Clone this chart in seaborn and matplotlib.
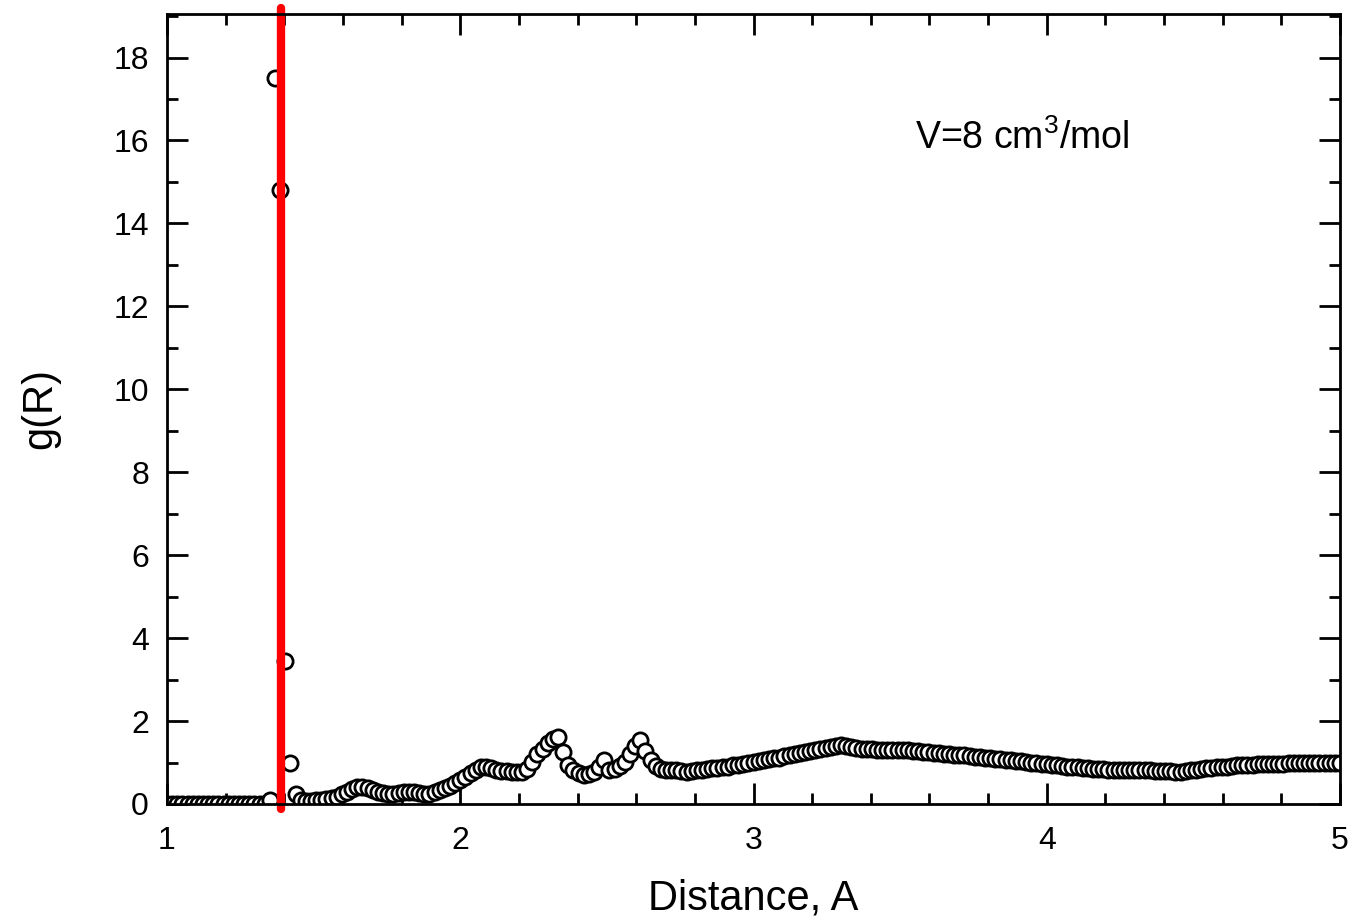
# g(R) radial distribution chart

import numpy as np
import pandas as pd
import seaborn as sns
import matplotlib.pyplot as plt
from matplotlib.ticker import MultipleLocator

# g(R) values, on a uniform distance grid from 1 to 5 A
g_values = [
    0.0, 0.0, 0.0, 0.0, 0.0, 0.0, 0.0, 0.0, 0.0, 0.0,
    0.0, 0.0, 0.0, 0.0, 0.0, 0.0, 0.0, 0.0, 0.0, 0.0,
    0.1, 17.5, 14.8, 3.45, 1.0, 0.25, 0.1, 0.08, 0.08, 0.1,
    0.1, 0.12, 0.14, 0.18, 0.24, 0.3, 0.37, 0.41, 0.42, 0.38,
    0.33, 0.29, 0.27, 0.25, 0.25, 0.26, 0.28, 0.29, 0.28, 0.26,
    0.24, 0.25, 0.28, 0.33, 0.38, 0.43, 0.5, 0.57, 0.66, 0.74,
    0.83, 0.89, 0.9, 0.86, 0.82, 0.8, 0.79, 0.77, 0.76, 0.76,
    0.84, 1.02, 1.2, 1.33, 1.47, 1.56, 1.62, 1.26, 0.94, 0.82,
    0.75, 0.71, 0.72, 0.78, 0.88, 1.06, 0.82, 0.84, 0.92, 1.02,
    1.2, 1.4, 1.54, 1.28, 1.06, 0.92, 0.84, 0.82, 0.83, 0.81,
    0.79, 0.78, 0.79, 0.81, 0.83, 0.85, 0.86, 0.87, 0.88, 0.9,
    0.93, 0.95, 0.97, 0.99, 1.02, 1.04, 1.06, 1.08, 1.1, 1.12,
    1.15, 1.17, 1.2, 1.22, 1.25, 1.27, 1.3, 1.33, 1.35, 1.37,
    1.41, 1.42, 1.4, 1.37, 1.34, 1.33, 1.32, 1.32, 1.31, 1.31,
    1.3, 1.3, 1.3, 1.29, 1.29, 1.28, 1.27, 1.26, 1.25, 1.24,
    1.23, 1.21, 1.2, 1.19, 1.18, 1.17, 1.16, 1.14, 1.13, 1.12,
    1.1, 1.09, 1.08, 1.07, 1.06, 1.04, 1.03, 1.01, 1.0, 0.99,
    0.97, 0.96, 0.94, 0.93, 0.92, 0.9, 0.89, 0.88, 0.87, 0.86,
    0.85, 0.84, 0.84, 0.83, 0.83, 0.82, 0.82, 0.82, 0.81, 0.81,
    0.81, 0.81, 0.8, 0.8, 0.79, 0.79, 0.78, 0.78, 0.79, 0.81,
    0.83, 0.84, 0.86, 0.87, 0.88, 0.89, 0.9, 0.91, 0.93, 0.94,
    0.95, 0.95, 0.96, 0.96, 0.97, 0.97, 0.97, 0.97, 0.98, 0.98,
    0.98, 0.98, 0.98, 0.99, 0.99, 0.99, 0.99, 1.0, 1.0,
]
r_start, r_end = 1.0, 5.0
distance = np.linspace(r_start, r_end, len(g_values))

ref_line_x = 1.389
label_text = 'V=8 cm$^{3}$/mol'
label_pos = (3.55, 16.05)

df = pd.DataFrame({'dist': distance, 'g': g_values})

sns.set_theme(style='ticks')
plt.rcParams['font.family'] = ['Liberation Sans', 'DejaVu Sans']
plt.rcParams['mathtext.fontset'] = 'custom'
plt.rcParams['mathtext.rm'] = 'Liberation Sans'
plt.rcParams['text.color'] = 'black'
plt.rcParams['axes.labelcolor'] = 'black'
plt.rcParams['xtick.color'] = 'black'
plt.rcParams['ytick.color'] = 'black'

fig = plt.figure(figsize=(13.5, 9.22), dpi=100)
ax = fig.add_axes([0.1237, 0.128, 0.8689, 0.8568])

sns.scatterplot(data=df, x='dist', y='g', ax=ax, marker='o', s=120,
                facecolor='white', edgecolor='black', linewidth=2.0,
                zorder=3)

# red vertical marker line
ax.axvline(ref_line_x, ymin=-0.006, ymax=1.008, color='#ff0000',
           linewidth=6, zorder=4, clip_on=False)

ax.text(label_pos[0], label_pos[1], label_text, fontsize=27,
        color='black', ha='left', va='center')

ax.set_xlim(r_start, r_end)
ax.set_ylim(0, 19.05)

ax.xaxis.set_major_locator(MultipleLocator(1))
ax.xaxis.set_minor_locator(MultipleLocator(0.2))
ax.yaxis.set_major_locator(MultipleLocator(2))
ax.yaxis.set_minor_locator(MultipleLocator(1))

ax.tick_params(which='both', direction='in', top=True, right=True,
               width=2, color='black', labelcolor='black', labelsize=23)
ax.tick_params(which='major', length=15)
ax.tick_params(which='minor', length=8)
ax.tick_params(axis='x', which='major', pad=16)
ax.tick_params(axis='y', which='major', pad=13)

for sp in ax.spines.values():
    sp.set_linewidth(2)
    sp.set_color('black')
    sp.set_zorder(5)

ax.set_xlabel('Distance, A', fontsize=30, labelpad=16, color='black')
ax.set_ylabel('g(R)', fontsize=30, labelpad=38, color='black')

plt.savefig('out.png', dpi=100)
